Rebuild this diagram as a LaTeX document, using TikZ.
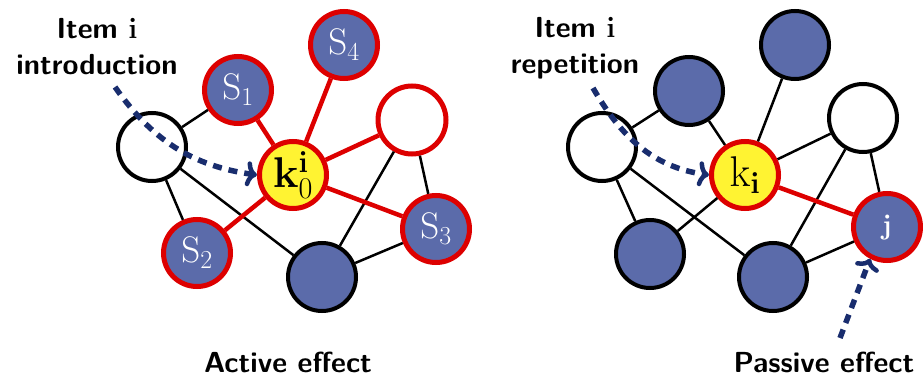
\RequirePackage{fix-cm}
\documentclass[tikz,border=0pt]{standalone}
\usepackage{amsmath}
\usepackage[no-math]{fontspec}
\usepackage{xcolor}
\usepackage{tikz}
\usetikzlibrary{arrows.meta,calc,positioning}
\definecolor{nodeblue}{RGB}{91,107,170}
\definecolor{hotred}{RGB}{221,0,0}
\definecolor{keyyellow}{RGB}{255,243,50}
\definecolor{walknavy}{RGB}{25,45,110}
\tikzset{
	vertex/.style={circle,draw=black,line width=4pt,minimum size=68pt,inner sep=0pt},
	plain/.style={vertex,fill=white},
	filled/.style={vertex,fill=nodeblue},
	member/.style={vertex,fill=nodeblue,draw=hotred,line width=5pt,minimum size=67pt,text=white,font=\fontsize{37}{40}\selectfont},
	centre/.style={vertex,fill=keyyellow,draw=hotred,line width=5pt,minimum size=67pt,font=\fontsize{43}{48}\selectfont},
	link/.style={line width=2.5pt,black},
	hot/.style={line width=4.5pt,hotred},
	walk/.style={-{Computer Modern Rightarrow[length=11pt,width=25pt,line width=4.5pt]},line width=5.5pt,walknavy,dash pattern=on 9pt off 7pt},
	caption/.style={align=center,inner sep=0pt,font=\fontsize{29}{36}\selectfont\sffamily\bfseries\addfontfeature{LetterSpace=4}}
}
\begin{document}
\begin{tikzpicture}[x=1pt,y=1pt]
			\useasboundingbox (0,0) rectangle (923,378);
			% active effect
			\node[plain] (a0) at (152,231) {};
			\node[member] (as1) at (238,288) {$\mathrm{S}_1$};
			\node[member] (as4) at (344,333) {$\mathrm{S}_4$};
			\node[centre] (ak) at (293,203) {$\mathbf{k}_0^{\mathbf{i}}$};
			\node[plain,draw=hotred,line width=5pt] (aw) at (412,258) {};
			\node[member] (as3) at (436,149) {$\mathrm{S}_3$};
			\node[member] (as2) at (197,125) {$\mathrm{S}_2$};
			\node[filled] (ab) at (322,101) {};
			% passive effect
			\node[plain] (b0) at (602,231) {};
			\node[filled] (b1) at (689,287) {};
			\node[filled] (b4) at (795,333) {};
			\node[centre] (bk) at (745,203) {$\mathrm{k}_{\mathbf{i}}$};
			\node[plain] (bw) at (863,260) {};
			\node[member,font=\fontsize{28}{30}\selectfont] (bj) at (887,151) {$\mathbf{j}$};
			\node[filled] (b2) at (650,124) {};
			\node[filled] (bb) at (773,101) {};
			\begin{scope}
			\foreach \u/\v in {a0/as1,a0/as2,a0/ab,aw/ab,aw/as3,ab/as3,
				b0/b1,b0/b2,b0/bb,b1/bk,b4/bk,bk/bw,bk/b2,bw/bb,bw/bj,bb/bj}
				\draw[link] (\u) -- (\v);
			\foreach \u in {as1,as4,aw,as3,as2}
				\draw[hot] (ak) -- (\u);
			\draw[hot] (bk) -- (bj);
			\end{scope}
			% walks
			\coordinate (ain) at (115,291);
			\coordinate (bin) at (593,290);
			\coordinate (bout) at (840,40);
			\draw[walk] (ain) to[out=-55,in=172] (ak.west);
			\draw[walk] (bin) to[out=-60,in=172] (bk.west);
			\draw[walk] (bout) -- (bj.-118);
			% labels
			\node[caption,anchor=north] (aintro) at (97,360) {Item $\mathbf{i}$\\introduction};
			\node[caption,anchor=north] (brep) at (575,361) {Item $\mathbf{i}$\\repetition};
			\node[caption,anchor=base] (aeff) at (288,6) {Active effect};
			\node[caption,anchor=base] (beff) at (824,6) {Passive effect};
			\end{tikzpicture}
\end{document}
